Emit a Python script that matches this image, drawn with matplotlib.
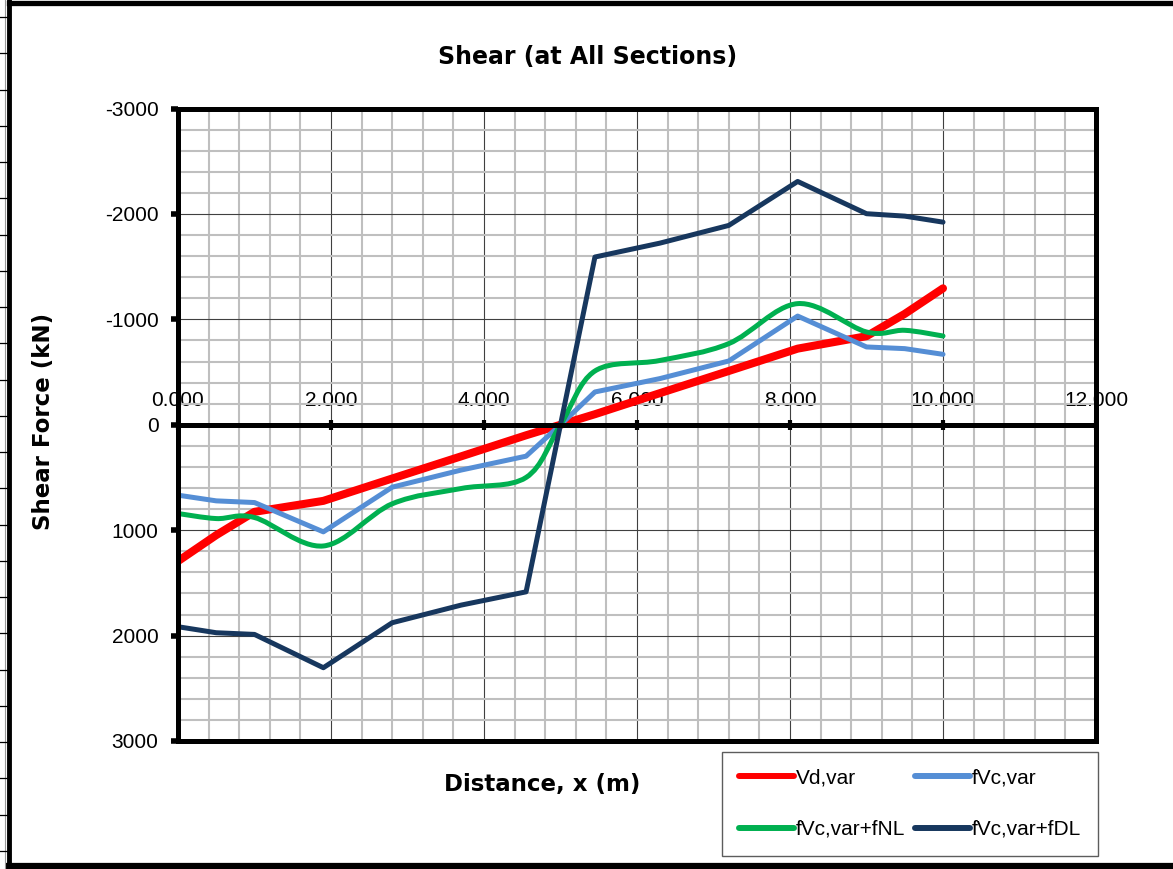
import numpy as np
import matplotlib
matplotlib.use("Agg")
import matplotlib.pyplot as plt
from matplotlib.path import Path
from matplotlib.patches import PathPatch
from matplotlib.lines import Line2D
from matplotlib.ticker import MultipleLocator, FormatStrFormatter

# ---------------- data ----------------
x_dist = [0.0, 0.5, 1.0, 1.9, 2.8, 3.7, 4.55, 5.0, 5.45, 6.3, 7.2, 8.1, 9.0, 9.5, 10.0]
vd_var = [1294, 1047, 826, 722, 510, 300, 100, 0, -100, -300, -510, -722, -840, -1052, -1294]
fvc_var = [668, 722, 738, 1016, 592, 430, 298, 0, -311, -438, -605, -1031, -738, -722, -668]
fvc_var_fnl = [842, 890, 880, 1150, 750, 605, 500, 0, -510, -610, -770, -1149, -880, -896, -842]
fvc_var_fdl = [1916, 1973, 1989, 2305, 1878, 1711, 1585, 0, -1591, -1723, -1891, -2308, -2002, -1979, -1922]

series_labels = ["Vd,var", "fVc,var", "fVc,var+fNL", "fVc,var+fDL"]
series_colors = ["#FF0000", "#558ED5", "#00B050", "#17375E"]

x_ticks = [0, 2, 4, 6, 8, 10, 12]
y_ticks = [-3000, -2000, -1000, 0, 1000, 2000, 3000]

TICK_FONT = "Liberation Sans"
BOLD_FONT = "DejaVu Sans"


def excel_smooth_path(xs, ys):
    pts = np.column_stack([xs, ys]).astype(float)
    n = len(pts)
    verts = [pts[0]]
    codes = [Path.MOVETO]
    for i in range(n - 1):
        p0 = pts[i - 1] if i > 0 else pts[i]
        p1 = pts[i]
        p2 = pts[i + 1]
        p3 = pts[i + 2] if i + 2 < n else pts[i + 1]
        c1 = p1 + (p2 - p0) / 6.0
        c2 = p2 - (p3 - p1) / 6.0
        verts += [c1, c2, p2]
        codes += [Path.CURVE4] * 3
    return Path(verts, codes)


W, H = 1173, 869
fig = plt.figure(figsize=(W / 100, H / 100), dpi=100)
ax = fig.add_axes([178 / W, 1 - 741 / H, (1096 - 178) / W, (741 - 108.5) / H])

ax.set_xlim(0, 12)
ax.set_ylim(3000, -3000)

# grid
ax.xaxis.set_major_locator(MultipleLocator(2))
ax.xaxis.set_minor_locator(MultipleLocator(0.4))
ax.yaxis.set_major_locator(MultipleLocator(1000))
ax.yaxis.set_minor_locator(MultipleLocator(200))
ax.grid(which="minor", color="#BFBFBF", lw=1.5, zorder=0)
ax.grid(which="major", color="#404040", lw=0.8, zorder=0)
ax.set_axisbelow(True)

# series
lw_list = [5.8, 3.6, 3.6, 3.6]
ax.plot(x_dist, vd_var, color=series_colors[0], lw=lw_list[0], solid_capstyle="round",
        solid_joinstyle="round", zorder=3)
ax.plot(x_dist, fvc_var, color=series_colors[1], lw=lw_list[1], solid_capstyle="round",
        solid_joinstyle="round", zorder=3)
ax.add_patch(PathPatch(excel_smooth_path(x_dist, fvc_var_fnl), facecolor="none",
                       edgecolor=series_colors[2], lw=lw_list[2], capstyle="round",
                       joinstyle="round", zorder=3))
ax.plot(x_dist, fvc_var_fdl, color=series_colors[3], lw=lw_list[3], solid_capstyle="round",
        solid_joinstyle="round", zorder=3)

handles = {}
for lab, col in zip(series_labels, series_colors):
    handles[lab] = Line2D([], [], color=col, lw=4.3, solid_capstyle="round", label=lab)
# legend fills column-wise; order so rows read: Vd,var | fVc,var / fNL | fDL
leg_order = [series_labels[0], series_labels[2], series_labels[1], series_labels[3]]

# spines / axes
SP = 3.6
for s in ["left", "right", "bottom", "top"]:
    ax.spines[s].set_linewidth(SP)
    ax.spines[s].set_color("black")
    ax.spines[s].set_zorder(4)
ax.spines["top"].set_position(("data", 0))
ax.axhline(-3000, color="black", lw=SP, clip_on=False, zorder=4, solid_capstyle="projecting")

ax.xaxis.set_ticks_position("top")
ax.set_xticks(x_ticks)
ax.xaxis.set_major_formatter(FormatStrFormatter("%.3f"))
ax.tick_params(axis="x", which="major", direction="inout", length=7, width=3, pad=7,
               labelsize=15, top=True, bottom=False)
ax.set_yticks(y_ticks)
ax.yaxis.set_major_formatter(FormatStrFormatter("%d"))
ax.tick_params(axis="y", which="major", direction="out", length=5, width=4, pad=9,
               labelsize=15, left=True, right=False)
ax.tick_params(which="minor", length=0)
for lbl in ax.get_xticklabels() + ax.get_yticklabels():
    lbl.set_fontfamily(TICK_FONT)

# texts
fig.text(588 / W, 1 - 57 / H, "Shear (at All Sections)", ha="center", va="center",
         fontsize=17, fontweight="bold", family=BOLD_FONT)
fig.text(542 / W, 1 - 785 / H, "Distance, x (m)", ha="center", va="center",
         fontsize=16.5, fontweight="bold", family=BOLD_FONT)
fig.text(44 / W, 1 - 421 / H, "Shear Force (kN)", ha="center", va="center", rotation=90,
         fontsize=16.5, fontweight="bold", family=BOLD_FONT)

# legend
leg = fig.legend(handles=[handles[k] for k in leg_order], loc="upper left",
                 bbox_to_anchor=(722 / W, 1 - 752 / H),
                 ncol=2, frameon=True, fancybox=False, edgecolor="#333333",
                 prop={"family": TICK_FONT, "size": 15}, handlelength=2.64,
                 handletextpad=0.1, columnspacing=0.45, labelspacing=1.55,
                 borderpad=0.8, borderaxespad=0)
leg.get_frame().set_linewidth(1.0)

# outer frame (figure border)
fig.add_artist(Line2D([9 / W, 9 / W], [0, 1], transform=fig.transFigure, color="black", lw=3.5))
fig.add_artist(Line2D([9 / W, 1], [1 - 2.5 / H, 1 - 2.5 / H], transform=fig.transFigure,
                      color="black", lw=3.8))
fig.add_artist(Line2D([9 / W, 1], [1 - 865.5 / H, 1 - 865.5 / H], transform=fig.transFigure,
                      color="black", lw=4.5))
fig.add_artist(Line2D([4.5 / W, 4.5 / W], [0, 1], transform=fig.transFigure, color="#999999", lw=0.8))
for k in range(24):
    yy = 1 - (17 + 36.26 * k) / H
    fig.add_artist(Line2D([0, 7 / W], [yy, yy], transform=fig.transFigure, color="black", lw=0.9))

fig.savefig("out.png", dpi=100)
